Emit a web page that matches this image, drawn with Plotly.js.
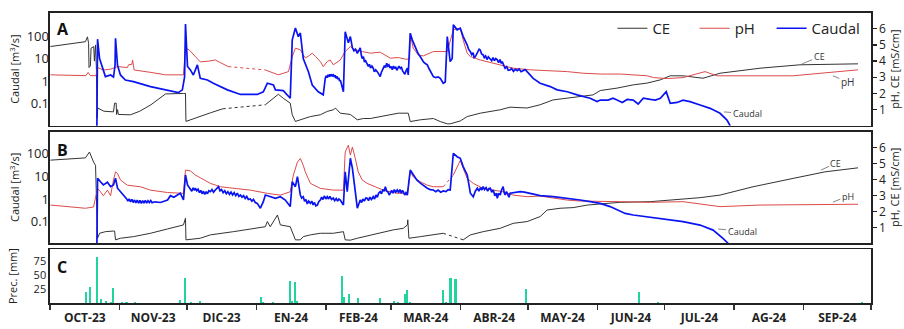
<!DOCTYPE html>
<html><head><meta charset="utf-8">
<script src="https://cdn.plot.ly/plotly-3.0.1.min.js"></script>
<style>html,body{margin:0;padding:0;background:#fff}#c{width:904px;height:329px}</style>
</head><body><div id="c"></div>
<script>
// x values: days since 1 Oct 2023
const monthStarts = [0,31,61,92,123,152,183,213,244,274,305,336,366];
const monthLabels = ['OCT-23','NOV-23','DIC-23','EN-24','FEB-24','MAR-24','ABR-24','MAY-24','JUN-24','JUL-24','AG-24','SEP-24'];
const caudalTicks = [0.1,1,10,100];
const caudalTickText = ['0.1','1','10','100'];
const rightTicks = [1,2,3,4,5,6];
const precTicks = [25,50,75];
const seriesNames = ['CE','pH','Caudal'];

// Panel A — CE [mS/cm]
const ceA = [[0.2,4.9],[15.8,5.2],[16.7,5.5],[17.2,5.1],[17.4,3.6],[18,3.7],[18.3,4.8],[19.5,4.9],[19.8,4.0],[20.3,5.0],[20.7,3.5],[21,0.5],[21.3,1.1],[22.5,1.0],[24,0.9],[28.3,0.86],[28.8,1.4],[29.5,1.4],[29.7,0.7],[30.1,1.0],[30.5,0.7],[35.9,0.68],[40,0.9],[45,1.3],[51.5,1.97],[59.5,2.0],[60.4,2.0],[60.6,0.27],[65,0.5],[71.5,0.8],[77,1.05],[77.5,null],
 [96,1.3],[101.8,1.95],[104,1.7],[107.1,1.4],[108,0.68],[109.4,0.27],[111.6,0.37],[116.1,0.57],[120.5,0.68],[123.6,0.89],[126.3,0.99],[127.3,1.09],[129.4,0.78],[133.9,0.7],[137,0.37],[139.7,0.45],[142.8,0.45],[147.2,0.57],[150.4,0.68],[155.3,0.78],[159.7,0.78],[160.6,0.26],[165.1,0.37],[170.9,0.45],[174,0.26],[177.1,0.12],[178.4,0.12],[182.9,0.3],[186,0.57],[191.8,0.78],[200.7,0.99],[205.1,1.15],[212.7,1.1],[218.5,1.3],[224.3,1.6],[230.6,1.71],[236.3,1.81],[242.1,1.91],[245.3,2.18],[252.8,2.33],[260,2.53],[266.2,2.64],[272.1,2.84],[276.5,3.09],[282.2,3.09],[291.1,2.94],[298.7,3.25],[316.5,3.56],[334.3,3.77],[349,3.83],[360.2,3.83]];
const ceAGap = [[77,1.05],[96,1.3]];
// Panel A — pH
const phA = [[0.2,3.15],[16,3.1],[17,3.3],[18,3.1],[20.5,3.1],[21.2,3.6],[23.8,3.45],[27,3.5],[30.1,3.66],[34.5,3.6],[35,3.77],[36.5,3.8],[36.8,4.07],[37.5,3.45],[45,3.3],[51.5,3.15],[59.5,3.15],[60.4,4.8],[62,4.7],[66.2,4.07],[67,3.95],[71,4.0],[73.7,4.07],[76,3.9],[79.5,3.66],[80,null],
 [96,3.45],[101.8,3.15],[106.3,3.35],[108,4.27],[109.4,4.8],[111.6,4.7],[112.9,4.38],[113.8,4.2],[115.2,4.3],[116.9,4.49],[118.3,4.3],[120.5,3.97],[121.8,3.66],[123.6,3.97],[124.9,4.07],[126.3,3.77],[129.4,4.07],[131.6,4.59],[133.9,4.9],[136.1,4.7],[139.2,4.59],[142.8,4.49],[147.2,4.55],[149.5,4.38],[151.7,4.18],[155.3,4.22],[158.4,4.12],[160.3,4.12],[160.6,5.72],[161.9,4.8],[164.2,4.38],[166.4,4.32],[170.9,4.59],[177.1,4.59],[179.8,5.93],[182.9,6.03],[184.2,5.3],[186,4.49],[187.4,4.28],[191.8,4.07],[200.7,3.77],[206.5,3.56],[214.1,3.46],[221.6,3.42],[230.6,3.35],[237.7,3.25],[245.3,3.2],[254.2,3.2],[266.2,3.09],[269,2.98],[275.2,2.92],[282.2,2.98],[292,3.35],[297.4,3.09],[331.2,3.09],[360.2,3.46]];
const phAGap = [[79.5,3.66],[96,3.45]];
// Panel A — Caudal [m3/s]
const qA = [[20.9,0.008],[21.2,73],[22.1,10],[23.8,2.6],[24.7,1.56],[27,1.85],[28.3,1.5],[29,5],[29.2,80],[30.1,5],[31.4,1.85],[33.6,1.1],[37.2,0.93],[44.8,0.56],[52.4,0.37],[57.2,0.3],[59,0.4],[60,1.5],[60.4,350],[61.3,4.4],[62.6,3.1],[63.9,1.85],[65.7,5.2],[67,1.3],[70.2,1.1],[72.8,0.79],[79.1,0.4],[84.9,0.25],[92.4,0.25],[95.1,0.33],[96.9,0.79],[99.6,0.66],[100.5,0.4],[104,0.37],[107.1,0.17],[108,68],[109.4,230],[110.7,95],[111.6,138],[112.5,24],[112.9,10],[115.2,2.6],[116.9,0.66],[119.6,0.33],[121.8,0.24],
 [122.7,1.3],[123.1,1.7],[123.5,1.4],[123.9,1.9],[124.3,1.5],[124.7,2.0],[125.1,1.6],[125.5,2.0],[125.9,1.7],[126.3,1.85],[126.7,1.5],[127.1,1.8],[127.5,1.3],[127.9,1.6],[128.3,1.2],[128.7,1.4],[129.1,1.0],[129.4,1.1],[129.8,0.8],[130.2,0.5],[130.8,0.33],
 [131.6,158],[133,50],[133.9,95],[134.8,30],[135.5,22],[136.2,26],[137,17],[137.6,24],[138.3,30],[138.8,14],[139.2,10],[139.7,12],[140.2,7],[140.7,8],[141.4,6.2],[141.9,4.5],[142.4,5.5],[142.9,3.8],[143.5,4.6],[144.1,3.7],[144.6,2.6],[145.2,3.1],[145.9,2.6],[146.5,1.9],[147.2,1.56],[147.7,2.4],[148.2,3.0],[148.6,3.7],[149.1,4.8],[149.6,4.0],[150.1,6.2],[150.6,4.6],[151.1,5.2],[151.6,3.8],[152.1,4.4],[152.6,3.2],[153.1,4.6],[153.6,3.6],[154.1,4.3],[154.6,3.0],[155.1,3.6],[155.6,4.6],[156.2,3.6],[156.7,4.0],[157.2,2.8],[157.7,2.4],[158.2,2.0],[158.7,2.8],[159.3,3.7],[159.7,1.85],
 [160.6,134],[161.5,68],[162.8,34],[163.5,22],[164.2,16],[165.1,12],[165.8,8.5],[166.5,7],[167.3,6],[168.2,5.2],[169,3.5],[169.8,2.6],[170.9,1.56],[172,1.4],[173,1.5],[174,1.3],[175.3,0.79],[176.2,0.9],[177.1,95],[178.4,7.3],[179.3,10],[179.8,317],[181.5,190],[182.9,225],[184.2,95],[186,40],[186.6,26],[187.4,20],[188,15],[188.6,18],[189.1,11],[189.6,12],[190.2,16],[190.7,20],[191.3,26],[191.8,24],[192.4,16],[193.1,14.5],[193.6,11],[194.2,13],[194.8,9],[195.4,12],[196.3,10],[196.9,8],[197.5,11],[198.1,8],[198.7,10],[199.4,8.7],[200,6.5],[200.6,9],[201.2,6],[201.6,7.3],[202.3,5],[202.9,3.7],[203.6,4.3],[204.3,3.0],[205.1,3.1],[205.8,3.6],[206.6,2.7],[207.4,3.3],[208.3,2.9],[209.1,3.4],[210,2.6],[210.9,2.9],[211.8,3.2],[212.7,2.6],[214,1.9],[215.4,1.3],[218.5,0.79],[223,0.56],[226.1,0.4],[230.6,0.33],[235,0.24],[240.8,0.17],[243.9,0.12],[245.3,0.14],[248.8,0.14],[251,0.17],[252.8,0.14],[255.1,0.11],[257.3,0.15],[260,0.14],[262.2,0.094],[264.5,0.17],[267.6,0.15],[269.9,0.14],[272.1,0.17],[274.7,0.33],[276.5,0.1],[279.6,0.11],[282.2,0.14],[285.3,0.12],[289.8,0.085],[294.3,0.06],[298.7,0.036],[301.8,0.018],[303.2,0.01]];

// Panel B — CE
const ceB = [[0.2,5.22],[15.8,5.36],[17.6,5.73],[18.5,5.4],[19.4,5.1],[20.3,4.9],[20.7,1.8],[21.2,0.35],[22.1,0.66],[24.7,0.76],[28.3,0.8],[28.8,0.8],[29.2,0.25],[31.4,0.35],[37.2,0.45],[44.8,0.66],[52.4,0.93],[59.5,1.18],[60.4,1.6],[60.6,0.25],[67,0.35],[71.5,0.56],[81.8,0.76],[92.4,0.97],[96,1.07],[96.9,1.39],[98.2,1.07],[101.4,1.8],[102.7,1.18],[107.1,1.07],[108,0.76],[109.4,0.25],[111.6,0.25],[112.9,0.45],[116.1,0.56],[120.5,0.66],[126.3,0.66],[130.8,0.76],[131.6,0.25],[133.9,0.23],[137,0.35],[141.4,0.5],[147.2,0.66],[153,0.87],[157.5,0.97],[159.3,1.18],[159.5,1.5],[160,0.35],[165.1,0.45],[170.9,0.56],[175.3,0.66],[175.8,null],
 [184.2,0.25],[187.4,0.56],[193.1,0.76],[200.7,0.97],[206.5,1.28],[212.7,1.39],[218.5,1.7],[221.6,2.11],[227.4,2.22],[233.2,2.26],[239.5,2.42],[245.3,2.5],[254.2,2.59],[267.6,2.63],[278,2.73],[289.8,2.88],[298.7,3.04],[313.4,3.56],[331.2,4.08],[345.5,4.49],[360.2,4.74]];
const ceBGap = [[175.3,0.66],[184.2,0.25]];
// Panel B — pH
const phB = [[0.2,2.42],[15.8,2.22],[19.4,2.3],[20.3,2.84],[21.2,3.46],[22.5,3.25],[23.8,3.0],[25.6,3.35],[27,3.0],[28.3,3.98],[29.2,4.49],[30.1,4.39],[31.4,3.98],[34.5,3.66],[40.3,3.56],[44.8,3.35],[52.4,3.2],[59.5,3.15],[60.4,4.6],[62.6,4.55],[64.8,4.29],[67,4.12],[71.5,3.77],[76,3.56],[81.8,3.46],[89.3,3.35],[96.9,3.15],[102.7,3.04],[107.1,3.25],[108.5,4.29],[110.3,5.1],[111.6,5.32],[112.9,4.9],[113.8,4.49],[116.1,3.77],[120.5,3.46],[126.3,3.35],[130.8,3.35],[131.6,5.73],[133,6.15],[133.9,5.53],[134.8,6.04],[136.1,5.32],[137.4,4.49],[139.2,3.98],[141.4,3.77],[145,3.56],[148.6,3.35],[151.7,3.25],[154.8,3.15],[157.5,3.15],[159.3,3.04],[160.6,4.49],[161.9,4.18],[165.1,3.87],[168.2,3.66],[170.9,3.56],[175.3,3.56],[175.8,null],
 [179.8,4.29],[182.9,5.2],[184.2,4.7],[186,4.08],[188.7,3.77],[193.1,3.46],[197.6,3.35],[202,3.25],[206.5,3.04],[212.7,2.94],[218.5,2.98],[224.3,2.84],[230.6,2.73],[236.3,2.67],[245.3,2.67],[254.2,2.63],[267.6,2.59],[282.2,2.63],[298.7,2.32],[316.5,2.42],[360.2,2.47]];
const phBGap = [[175.3,3.56],[179.8,4.29]];
// Panel B — Caudal
const qB = [[20.9,0.008],[21.2,8.3],[22.5,5.8],[23.8,4.2],[25.6,5.5],[27,3.5],[28.3,4.2],[29.2,8.3],[30.1,3.0],[31.4,2.1],[33.6,1.26],
 [34.2,1.0],[34.7,0.8],[35.3,1.0],[35.9,0.75],[36.5,0.95],[37.1,0.7],[37.7,0.9],[38.3,0.68],[38.9,0.88],[39.5,0.66],[40.1,0.86],[40.7,0.64],[41.3,0.85],[41.9,0.65],[42.5,0.86],[43.1,0.66],[43.7,0.84],[44.3,0.7],[44.9,0.85],[45.5,0.68],[46.1,0.72],[46.7,0.75],[49.3,0.7],[52.4,0.9],[53.7,1.4],[55.2,1.2],[56.8,1.5],[58.1,1.8],[59.5,0.9],[60.4,11.5],[61.3,4.2],[62.6,2.77],[63.2,2.2],[63.8,3.1],[64.4,2.4],[64.8,3.0],[65.4,2.3],[66,2.7],[66.6,1.9],[67.2,2.4],[67.8,1.7],[68.4,2.2],[69,1.6],[69.6,2.1],[70.2,1.7],[70.8,2.3],[71.5,2.1],[72.2,2.6],[72.9,2.0],[73.7,2.5],[74.3,2.9],[75.1,3.5],[75.8,2.3],[76.5,2.6],[77.2,1.9],[77.9,2.3],[78.6,1.7],[79.3,2.1],[80,1.6],[80.7,2.0],[81.4,1.5],[82.1,1.9],[82.8,1.4],[83.5,1.8],[84.2,1.3],[84.9,1.5],[85.6,1.2],[86.3,1.4],[87,1.05],[87.7,1.3],[88.4,0.95],[89.3,1.0],[90,0.8],[90.7,0.95],[91.5,0.7],[92.4,0.64],[93.8,0.39],[95.1,0.76],[96,1.5],[98.2,1.26],[100.5,1.07],[102.7,1.26],[104.9,0.9],[107.1,0.46],[108,5.8],[109.4,3.5],[110.3,9.7],[111.6,1.5],[112.2,1.1],[112.9,1.26],[113.5,0.8],[114.1,0.95],[114.7,0.6],[115.3,0.8],[116.1,0.64],[116.7,0.8],[117.3,0.55],[117.9,0.7],[118.5,0.5],[119.2,0.54],[119.8,0.75],[120.5,0.9],[121.1,1.2],[121.7,0.95],[122.3,1.35],[123,1.0],[123.6,1.26],[124.2,1.0],[124.8,1.3],[125.5,0.95],[126.3,1.1],[126.9,0.85],[127.6,1.05],[128.2,0.8],[128.8,1.0],[129.4,0.9],[130.1,0.7],[130.8,0.54],[131.6,16],[132.5,2.1],[133.9,63],[134.8,23],[136.1,2.1],[137,0.39],[138.3,0.9],[138.9,0.7],[139.5,1.0],[140.1,0.8],[140.8,1.1],[141.4,1.07],[142,0.85],[142.6,1.2],[143.3,0.95],[144.1,1.26],[144.7,1.0],[145.3,1.5],[145.9,1.2],[146.5,1.8],[147.2,2.1],[147.8,1.7],[148.4,2.6],[149,2.2],[149.5,3.5],[150.1,2.2],[150.7,2.0],[151.2,1.5],[151.7,1.8],[152.3,2.4],[152.9,1.8],[153.5,2.6],[154.1,2.0],[154.8,2.5],[155.4,1.9],[156,2.6],[156.6,1.8],[157.1,2.4],[157.5,2.1],[158.1,1.5],[158.7,1.9],[159.3,1.5],[160.6,19],[161.9,11.5],[163.5,7],[165.1,5],[166.7,3.8],[168.2,3.0],[169.5,2.6],[170.9,2.5],[172,2.1],[173,2.5],[174.2,2.0],[175.3,2.26],[176.5,2.1],[177.5,2.6],[178.4,2.5],[179.8,105],[181.5,74],[182.9,63],[184.2,27],[186,11.5],[187.4,1.8],[188.7,1.26],[189.6,2.2],[190.5,3.0],[191.2,2.2],[191.9,3.2],[192.5,2.5],[193.1,3.5],[193.7,2.6],[194.4,3.2],[195.1,2.2],[195.7,2.9],[196.3,3.0],[196.9,2.0],[197.6,2.5],[198.3,1.4],[199,1.8],[199.4,1.07],[200,1.8],[200.7,1.5],[201.3,2.5],[202,3.5],[202.5,1.9],[202.9,1.5],[203.5,2.1],[204.1,1.6],[204.6,1.2],[205.1,1.8],[206.5,1.9],[208,2.0],[209.6,2.1],[211.5,2.0],[214.1,1.8],[218.5,1.4],[224.3,1.26],[230.6,1.07],[236.3,0.9],[240.8,0.76],[245.3,0.64],[249.7,0.46],[256.4,0.23],[260,0.196],[272.1,0.14],[282.2,0.099],[289.8,0.07],[295.6,0.042],[300,0.018],[302.3,0.011]];

// Panel C — precipitation [mm]
const precDay = [16.1,17.7,21.0,22.8,24.9,27.0,28.0,32.2,34.1,38.1,58.1,60.1,63.0,67.0,94.1,95.1,99.4,107.1,107.9,109.2,110.1,130.0,130.9,133.3,137.3,147.2,153.2,155.1,158.1,159.1,160.6,175.2,176.7,178.2,178.9,180.4,181.1,212.3,262.6,271.2,361.8];
const precMm  = [19,29,83,8,4,2,27,2,2,1.5,5.5,45,1.5,3,10,2,2,39,3,37,3,49,10,16,9,9,3,2,16,24,2,24,2,45,45,43,43,25,19,1,1];

const C_CE = '#333333', C_PH = '#dc4a4a', C_Q = '#0a14f0', C_P = '#22d3a0';
const split = a => ({x: a.map(p => p[0]), y: a.map(p => p[1])});
const mid = monthLabels.map((_, i) => (monthStarts[i] + monthStarts[i+1]) / 2);
const NB = '\u00a0';
const legendNames = [seriesNames[0] + NB.repeat(5), seriesNames[1] + NB.repeat(3), seriesNames[2]];

function line(arr, xa, ya, color, w, name, show, dash) {
  const d = split(arr);
  return {type:'scatter', mode:'lines', x:d.x, y:d.y, xaxis:xa, yaxis:ya, name:name, showlegend:show,
          connectgaps:false, line:{color:color, width:w, dash:dash||'solid'}, hoverinfo:'skip'};
}

const data = [
  line(ceA,'x','y',C_CE,1,legendNames[0],true),
  line(ceAGap,'x','y',C_CE,1,'CE',false,'dot'),
  line(phA,'x','y',C_PH,1,legendNames[1],true),
  line(phAGap,'x','y',C_PH,1,'pH',false,'dot'),
  line(qA,'x','y2',C_Q,1.7,legendNames[2],true),
  line(ceB,'x2','y3',C_CE,1,'CE',false),
  line(ceBGap,'x2','y3',C_CE,1,'CE',false,'dot'),
  line(phB,'x2','y3',C_PH,1,'pH',false),
  line(phBGap,'x2','y3',C_PH,1,'pH',false,'dot'),
  line(qB,'x2','y4',C_Q,1.7,'Caudal',false),
  {type:'bar', x:precDay, y:precMm, xaxis:'x3', yaxis:'y5', width:0.9, marker:{color:C_P, line:{width:0}}, showlegend:false, hoverinfo:'skip'}
];

const font = {family:'"Open Sans", "Noto Sans", sans-serif', color:'#222'};
const frame = {showline:true, linecolor:'#222', linewidth:1.6, mirror:true, showgrid:false, zeroline:false};
const xBase = Object.assign({}, frame, {range:[0,366], showticklabels:false, ticks:''});
const rightAx = (anchor, dom, rng) => Object.assign({}, frame, {domain:dom, anchor:anchor, side:'right', range:rng,
  tickmode:'array', tickvals:rightTicks, ticks:'outside', ticklen:4, tickwidth:1.2, tickcolor:'#222',
  tickfont:{size:12}, title:{text:'pH, CE [mS/cm]', font:{size:11}, standoff:6}});
const leftLog = (anchor, over, rng) => ({type:'log', overlaying:over, anchor:anchor, side:'left', range:rng,
  showgrid:false, zeroline:false, showline:false, tickmode:'array', tickvals:caudalTicks, ticktext:caudalTickText,
  ticks:'', tickfont:{size:13}, title:{text:'Caudal [m<sup>3</sup>/s]', font:{size:11}, standoff:4}});

const layout = {
  width:904, height:329, margin:{l:50, r:33, t:12, b:26},
  paper_bgcolor:'#fff', plot_bgcolor:'rgba(0,0,0,0)', font:font, bargap:0,
  showlegend:true,
  legend:{orientation:'h', x:0.685, xanchor:'left', y:1.0, yanchor:'top', font:{size:15}, bgcolor:'rgba(0,0,0,0)',
          traceorder:'normal'},
  xaxis: Object.assign({}, xBase, {anchor:'y'}),
  yaxis: rightAx('x', [0.609,0.998], [0,7]),
  yaxis2: leftLog('x', 'y', [-2.0,3.05]),
  xaxis2: Object.assign({}, xBase, {anchor:'y3'}),
  yaxis3: rightAx('x2', [0.206,0.589], [0.05,7]),
  yaxis4: leftLog('x2', 'y3', [-1.95,2.98]),
  xaxis3: Object.assign({}, frame, {anchor:'y5', range:[0,366], tickmode:'array', tickvals:mid,
    ticktext:monthLabels.map(s => '<b>'+s+'</b>'), ticks:'', tickfont:{size:12}, ticklabelstandoff:3,
    minor:{tickmode:'array', tickvals:monthStarts, ticks:'outside', ticklen:5, tickwidth:1.5, tickcolor:'#333'}}),
  yaxis5: Object.assign({}, frame, {anchor:'x3', domain:[0,0.185], range:[0,97], tickmode:'array', tickvals:precTicks,
    ticks:'', tickfont:{size:11}, title:{text:'Prec. [mm]', font:{size:11}, standoff:14}}),
  annotations: [
    {xref:'paper', yref:'paper', x:0.006, y:0.986, xanchor:'left', yanchor:'top', text:'<b>A</b>', showarrow:false, font:{size:16, color:'#111'}},
    {xref:'paper', yref:'paper', x:0.006, y:0.570, xanchor:'left', yanchor:'top', text:'<b>B</b>', showarrow:false, font:{size:16, color:'#111'}},
    {xref:'paper', yref:'paper', x:0.006, y:0.168, xanchor:'left', yanchor:'top', text:'<b>C</b>', showarrow:false, font:{size:16, color:'#111'}},
    {xref:'x', yref:'y', x:335.3, y:3.83, ax:17, ay:-7, text:'CE', showarrow:true, arrowhead:0, arrowwidth:0.8, arrowcolor:'#666', font:{size:9, color:'#333'}},
    {xref:'x', yref:'y', x:349, y:3.09, ax:15, ay:6, text:'pH', showarrow:true, arrowhead:0, arrowwidth:0.8, arrowcolor:'#666', font:{size:10, color:'#333'}},
    {xref:'x', yref:'y2', x:300.5, y:-1.38, ax:23, ay:2, text:'Caudal', showarrow:true, arrowhead:0, arrowwidth:0.8, arrowcolor:'#666', font:{size:9, color:'#333'}},
    {xref:'x2', yref:'y3', x:343.7, y:4.6, ax:15, ay:-7, text:'CE', showarrow:true, arrowhead:0, arrowwidth:0.8, arrowcolor:'#666', font:{size:9, color:'#333'}},
    {xref:'x2', yref:'y3', x:349, y:2.6, ax:15, ay:-6, text:'pH', showarrow:true, arrowhead:0, arrowwidth:0.8, arrowcolor:'#666', font:{size:9, color:'#333'}},
    {xref:'x2', yref:'y4', x:297.8, y:-1.33, ax:24, ay:2, text:'Caudal', showarrow:true, arrowhead:0, arrowwidth:0.8, arrowcolor:'#666', font:{size:9, color:'#333'}}
  ]
};

Plotly.newPlot('c', data, layout, {staticPlot:true, displayModeBar:false});
</script></body></html>
